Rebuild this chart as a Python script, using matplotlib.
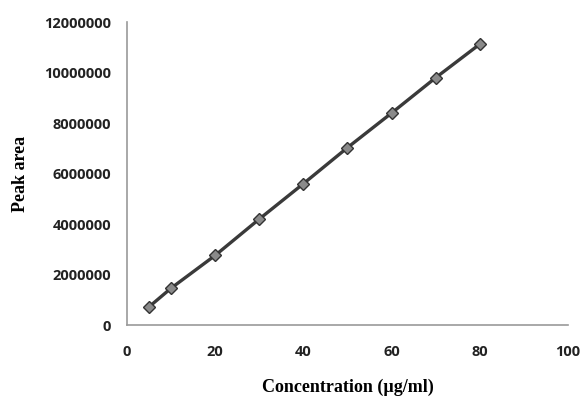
import numpy as np
import matplotlib.pyplot as plt

conc = [5, 10, 20, 30, 40, 50, 60, 70, 80]
peak_area = [720000, 1460000, 2760000, 4200000, 5600000, 7030000, 8400000, 9800000, 11130000]
xticks = [0, 20, 40, 60, 80, 100]
yticks = [0, 2000000, 4000000, 6000000, 8000000, 10000000, 12000000]

fig = plt.figure(figsize=(5.82, 3.96), dpi=100)
ax = fig.add_axes([0.218, 0.179, 0.758, 0.765])

ax.plot(conc, peak_area, color='#3a3a3a', lw=2.4, marker='D', ms=6,
        markerfacecolor='#8a8a8a', markeredgecolor='#333333', markeredgewidth=1)

ax.set_xlim(0, 100)
ax.set_ylim(0, 12000000)
ax.set_xticks(xticks)
ax.set_yticks(yticks)
ax.set_xticklabels([str(t) for t in xticks])
ax.set_yticklabels([str(t) for t in yticks])

for s in ['top', 'right']:
    ax.spines[s].set_visible(False)
for s in ['left', 'bottom']:
    ax.spines[s].set_color('#9a9a9a')
    ax.spines[s].set_linewidth(1.2)

ax.tick_params(length=0)
ax.tick_params(axis='x', pad=14.5)
ax.tick_params(axis='y', pad=11.5)
for lab in ax.get_xticklabels() + ax.get_yticklabels():
    lab.set_fontfamily('Open Sans')
    lab.set_fontweight('bold')
    lab.set_fontsize(10.5)
    lab.set_color('#222222')

ax.set_xlabel('Concentration (µg/ml)', family='Liberation Serif', fontweight='bold',
              fontsize=13, labelpad=14)
ax.set_ylabel('Peak area', family='Liberation Serif', fontweight='bold',
              fontsize=13, labelpad=11)

fig.savefig('out.png', dpi=100)
